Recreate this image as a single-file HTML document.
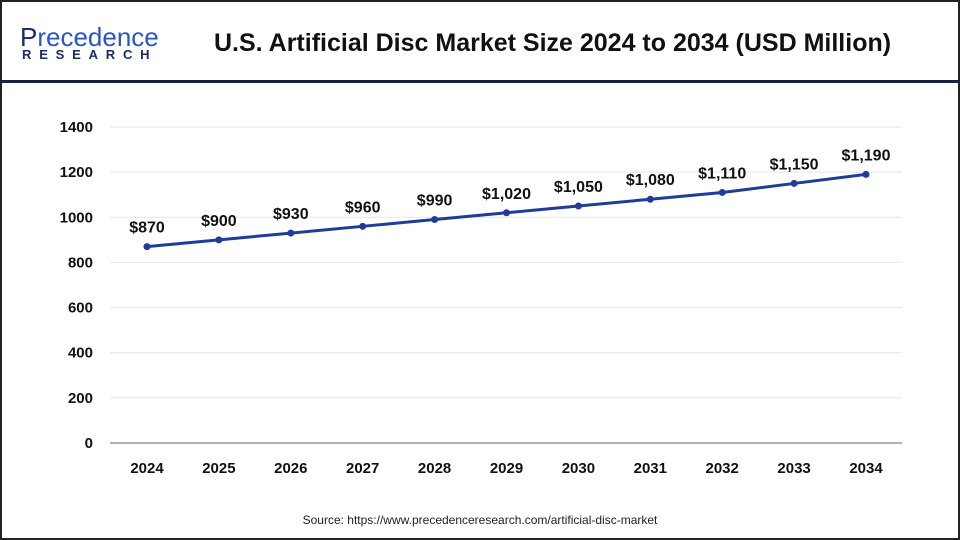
<!DOCTYPE html>
<html><head><meta charset="utf-8"><style>
body{margin:0;background:#fff}
#wrap{position:relative;width:960px;height:540px;box-sizing:border-box;border:2px solid #222;background:#fff;font-family:"Liberation Sans",sans-serif;overflow:hidden}
#hdr{position:absolute;left:0;top:0;width:956px;height:78px;border-bottom:3px solid #1a1f4a}
#title{position:absolute;left:212px;top:27px;font-size:25px;font-weight:bold;color:#111;white-space:nowrap}
#logo1{position:absolute;left:18px;top:20px;font-size:26px;color:#1b2a6b}
#logo1 span{color:#2c55c6}
#logo2{position:absolute;left:20px;top:45px;font-size:13px;font-weight:bold;color:#1b2a6b;letter-spacing:7.8px}
#src{position:absolute;left:0;width:956px;top:511px;text-align:center;font-size:12px;color:#222}
</style></head><body>
<div id="wrap">
<div id="hdr">
<div id="logo1">P<span>recedence</span></div>
<div id="logo2">RESEARCH</div>
<div id="title">U.S. Artificial Disc Market Size 2024 to 2034 (USD Million)</div>
</div>
<svg id="chart" width="956" height="536" style="position:absolute;left:0;top:0"></svg>
<div id="src">Source: https://www.precedenceresearch.com/artificial-disc-market</div>
</div>
<script>
const categories=["2024","2025","2026","2027","2028","2029","2030","2031","2032","2033","2034"];
const values=[870,900,930,960,990,1020,1050,1080,1110,1150,1190];
const valueLabels=["$870","$900","$930","$960","$990","$1,020","$1,050","$1,080","$1,110","$1,150","$1,190"];
const yTicks=[0,200,400,600,800,1000,1200,1400];
const NS="http://www.w3.org/2000/svg",svg=document.getElementById('chart');
const ox=-2,oy=-2;
const x=i=>147+i*71.9+ox, y=v=>443-v/1400*316+oy;
function mk(t,a,txt){const e=document.createElementNS(NS,t);for(const k in a)e.setAttribute(k,a[k]);if(txt!=null)e.textContent=txt;svg.appendChild(e);return e;}
yTicks.forEach(v=>{
 if(v>0){const g=mk('line',{x1:110+ox,x2:902+ox,y1:y(v),y2:y(v),stroke:'#e6e6e6','stroke-width':1});
 }
 const t=mk('text',{x:93+ox,y:y(v)+5,'text-anchor':'end','font-size':15,'font-weight':'bold','font-family':'Liberation Sans',fill:'#111'},v);
 
});
const ax=mk('line',{x1:110+ox,x2:902+ox,y1:y(0),y2:y(0),stroke:'#999','stroke-width':1.5});

categories.forEach((c,i)=>{const t=mk('text',{x:x(i),y:473+oy,'text-anchor':'middle','font-size':15,'font-weight':'bold','font-family':'Liberation Sans',fill:'#111'},c);
});
const ln=mk('polyline',{points:values.map((v,i)=>x(i)+','+y(v)).join(' '),fill:'none',stroke:'#1f3c9a','stroke-width':3});

values.forEach((v,i)=>{
 const p=mk('circle',{cx:x(i),cy:y(v),r:3.5,fill:'#1f3c9a'});
 
 const t=mk('text',{x:x(i),y:y(v)-14,'text-anchor':'middle','font-size':16,'font-weight':'bold','font-family':'Liberation Sans',fill:'#111'},valueLabels[i]);
 
});
</script>
</body></html>
